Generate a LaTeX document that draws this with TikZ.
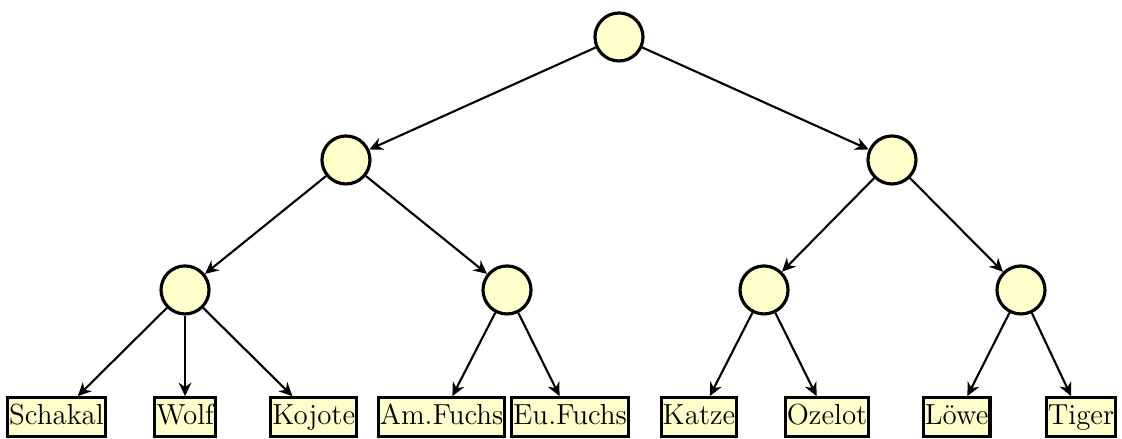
\documentclass[tikz,border=0pt]{standalone}
\usepackage{tikz}
\usetikzlibrary{arrows.meta}
\definecolor{cream}{HTML}{FFFFCC}

\tikzset{
  inner/.style={circle,draw=black,fill=cream,line width=1.2pt,minimum size=0.64cm,inner sep=0pt},
  leaf/.style={rectangle,draw=black,fill=cream,line width=1.2pt,inner xsep=0.6pt,inner ysep=2.4pt,
    text height=7.7pt,text depth=2.3pt,font=\fontsize{11}{13}\selectfont},
  edge/.style={-{Stealth[length=1.8mm,width=1.7mm]},thick}
}

\begin{document}
\begin{tikzpicture}[x=1cm,y=1cm]
\useasboundingbox (0,0) rectangle (14.96,5.853);
% inner nodes
\node[inner] (root) at (8.253,5.36) {};
\node[inner] (hunde) at (4.613,3.72) {};
\node[inner] (katzen) at (11.893,3.72) {};
\node[inner] (wolfartig) at (2.467,1.987) {};
\node[inner] (fuchse) at (6.76,1.987) {};
\node[inner] (klein) at (10.187,1.987) {};
\node[inner] (gross) at (13.613,1.987) {};
% leaves
\node[leaf] (schakal) at (0.753,0.29) {Schakal};
\node[leaf] (wolf) at (2.467,0.29) {Wolf};
\node[leaf] (kojote) at (4.183,0.29) {Kojote};
\node[leaf] (amfuchs) at (5.887,0.29) {Am.Fuchs};
\node[leaf] (eufuchs) at (7.6,0.29) {Eu.Fuchs};
\node[leaf] (katze) at (9.32,0.29) {Katze};
\node[leaf] (ozelot) at (11.027,0.29) {Ozelot};
\node[leaf] (loewe) at (12.756,0.29) {L\"owe};
\node[leaf] (tiger) at (14.413,0.29) {Tiger};
% edges
\draw[edge] (root) -- (hunde);
\draw[edge] (root) -- (katzen);
\draw[edge] (hunde) -- (wolfartig);
\draw[edge] (hunde) -- (fuchse);
\draw[edge] (katzen) -- (klein);
\draw[edge] (katzen) -- (gross);
\foreach \a/\b in {wolfartig/schakal,wolfartig/wolf,wolfartig/kojote,fuchse/amfuchs,fuchse/eufuchs,klein/katze,klein/ozelot,gross/loewe,gross/tiger}
  \draw[edge] (\a) -- (\b);
\end{tikzpicture}
\end{document}
